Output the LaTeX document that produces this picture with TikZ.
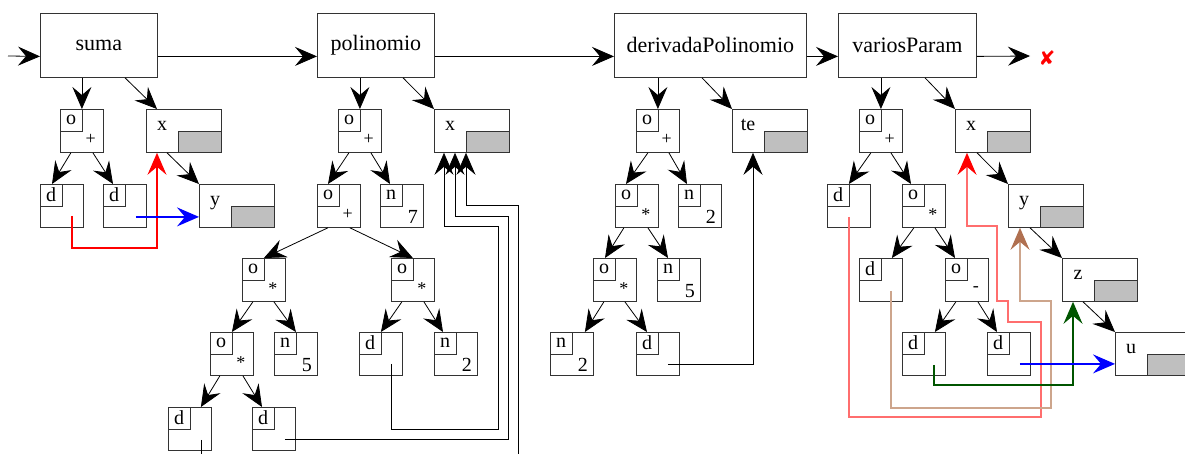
\documentclass[tikz,border=0pt]{standalone}
\usepackage{fontspec}
\setmainfont{Liberation Serif}
\newfontfamily\marksfont{DejaVu Sans}
\usetikzlibrary{arrows.meta}

\definecolor{brownarr}{RGB}{176,112,80}
\definecolor{brownline}{RGB}{205,165,140}
\definecolor{darkgreen}{RGB}{0,85,0}
\definecolor{lightred}{RGB}{255,110,110}

\tikzset{
  fbox/.style={draw=black!80, line width=0.8pt, minimum height=64pt, anchor=north west, font=\fontsize{22}{26}\selectfont},
  cell/.style={draw=black!80, line width=0.8pt, minimum size=43pt, inner sep=0pt, anchor=north west},
  tagbox/.style={draw=black!80, line width=0.8pt, minimum size=21.5pt, inner sep=0pt, anchor=north west, font=\fontsize{20}{22}\selectfont},
  opsym/.style={anchor=center, xshift=-13pt, yshift=13pt, font=\fontsize{18}{20}\selectfont},
  numsym/.style={anchor=center, xshift=-11pt, yshift=11pt, font=\fontsize{20}{22}\selectfont},
  op/.style={cell, label={[tagbox]north west:o}, label={[opsym]south east:#1}},
  dv/.style={cell, label={[tagbox]north west:d}},
  num/.style={cell, label={[tagbox]north west:n}, label={[numsym]south east:#1}},
  varname/.style={anchor=base, xshift=16pt, font=\fontsize{20}{22}\selectfont},
  greybox/.style={draw=black!80, fill=black!25, line width=0.8pt, minimum width=43pt, minimum height=21.5pt, inner sep=0pt, anchor=south east},
  var/.style={draw=black!80, line width=0.8pt, minimum width=75pt, minimum height=43pt, inner sep=0pt, anchor=north west, label={[varname]west:#1}, label={[greybox]south east:{}}},
  arr/.style={line width=0.8pt, -{Stealth[length=22pt, width=19pt, inset=8pt]}},
  tinted/.style 2 args={line width=1.2pt, draw=#1, -{Stealth[length=22pt, width=19pt, inset=8pt, color=#2]}},
}

\begin{document}
\begin{tikzpicture}[x=1pt, y=-1pt]
        \useasboundingbox (0,0) rectangle (1185,453);
        \clip (0,0) rectangle (1185,453);

        % functions
        \node[fbox, minimum width=117pt] (suma) at (40,13) {suma};
        \node[fbox, minimum width=117pt] (pol) at (317,13) {polinomio};
        \node[fbox, minimum width=192pt] (der) at (614,13) {derivadaPolinomio};
        \node[fbox, minimum width=138pt] (vp) at (838,13) {variosParam};
        \coordinate (start) at (8,56);
        \coordinate (stop) at (1030,56);
        \node[text=red, font=\marksfont\fontsize{20}{22}\selectfont] (cross) at (1047,58) {✘};
        \draw[arr] (start) -- ([yshift=-11pt]suma.west);
        \draw[arr] ([yshift=-11pt]suma.east) -- ([yshift=-11pt]pol.west);
        \draw[arr] ([yshift=-11pt]pol.east) -- ([yshift=-11pt]der.west);
        \draw[arr] ([yshift=-11pt]der.east) -- ([yshift=-11pt]vp.west);
        \draw[arr] ([yshift=-11pt]vp.east) -- (stop);

        % suma
        \node[op=+] (sop) at (60,109) {};
        \node[var=x] (sx) at (146,109) {};
        \node[dv] (sd1) at (40,184) {};
        \node[dv] (sd2) at (103,184) {};
        \node[var=y] (sy) at (199,184) {};
        \draw[arr] (sop.north |- suma.south) -- (sop.north);
        \draw[arr] ([xshift=85pt]suma.south west) -- ([xshift=11pt]sx.north west);
        \draw[arr] ([xshift=-11pt]sop.south) -- ([xshift=12pt]sd1.north west);
        \draw[arr] ([xshift=11pt]sop.south) -- ([xshift=10pt]sd2.north west);
        \draw[arr] ([xshift=21pt]sx.south west) -- (sy.north west);
        \coordinate (sd1o) at ([shift={(10,10)}]sd1.center);
        \coordinate (sd2o) at ([shift={(11,11)}]sd2.center);
        \draw[tinted={red}{red}] (sd1o) -- ++(0,32) -| ([xshift=11pt]sx.south west);
        \draw[tinted={blue}{blue}] (sd2o) -- (sd2o -| sy.west);

        % polinomio
        \node[op=+] (pop1) at (338,109) {};
        \node[var=x] (px) at (434,109) {};
        \node[op=+] (pop2) at (317,184) {};
        \node[num=7] (pn7) at (380,184) {};
        \node[op=*] (pop3) at (242,258) {};
        \node[op=*] (pop4) at (391,258) {};
        \node[op=*] (pop5) at (210,332) {};
        \node[num=5] (pn5) at (274,332) {};
        \node[dv] (pd3) at (359,332) {};
        \node[num=2] (pn2) at (434,332) {};
        \node[dv] (pd1) at (168,407) {};
        \node[dv] (pd2) at (252,407) {};
        \draw[arr] (pop1.north |- pol.south) -- (pop1.north);
        \draw[arr] ([xshift=86pt]pol.south west) -- (px.north west);
        \draw[arr] ([xshift=-11pt]pop1.south) -- ([xshift=11pt]pop2.north west);
        \draw[arr] ([xshift=11pt]pop1.south) -- ([xshift=10pt]pn7.north west);
        \draw[arr] ([xshift=-11pt]pop2.south) -- (pop3.north);
        \draw[arr] ([xshift=11pt]pop2.south) -- (pop4.north);
        \draw[arr] ([xshift=-11pt]pop3.south) -- (pop5.north);
        \draw[arr] ([xshift=10pt]pop3.south) -- (pn5.north);
        \draw[arr] ([xshift=-11pt]pop4.south) -- (pd3.north);
        \draw[arr] ([xshift=11pt]pop4.south) -- ([xshift=9pt]pn2.north west);
        \draw[arr] ([xshift=-12pt]pop5.south) -- ([xshift=11pt]pd1.north);
        \draw[arr] ([xshift=11pt]pop5.south) -- ([xshift=10pt]pd2.north west);
        \coordinate (pd1o) at ([shift={(11,11)}]pd1.center);
        \coordinate (pd2o) at ([shift={(11,10)}]pd2.center);
        \coordinate (pd3o) at ([shift={(10,10)}]pd3.center);
        \draw[arr] (pd3o) |- (498,429) -- (498,226) -| ([xshift=10pt]px.south west);
        \draw[arr] (pd2o) -| (508,216) -| ([xshift=21pt]px.south west);
        \draw[arr] (pd1o) |- (518,470) -- (518,205) -| ([xshift=32pt]px.south west);

        % derivadaPolinomio
        \node[op=+] (dop1) at (636,109) {};
        \node[var=te] (dte) at (732,109) {};
        \node[op=*] (dop2) at (615,184) {};
        \node[num=2] (dn2) at (678,184) {};
        \node[op=*] (dop3) at (593,258) {};
        \node[num=5] (dn5) at (657,258) {};
        \node[num=2] (dn2b) at (550,332) {};
        \node[dv] (dd) at (636,332) {};
        \draw[arr] (dop1.north |- der.south) -- (dop1.north);
        \draw[arr] ([xshift=88pt]der.south west) -- (dte.north west);
        \draw[arr] ([xshift=-10pt]dop1.south) -- ([xshift=11pt]dop2.north west);
        \draw[arr] ([xshift=11pt]dop1.south) -- ([xshift=9pt]dn2.north west);
        \draw[arr] ([xshift=-13pt]dop2.south) -- ([xshift=12pt]dop3.north west);
        \draw[arr] ([xshift=11pt]dop2.south) -- ([xshift=11pt]dn5.north west);
        \draw[arr] ([xshift=-11pt]dop3.south) -- ([xshift=13pt]dn2b.north);
        \draw[arr] ([xshift=10pt]dop3.south) -- ([xshift=11pt]dd.north west);
        \coordinate (ddo) at ([shift={(10,10)}]dd.center);
        \draw[arr] (ddo) -| ([xshift=21pt]dte.south west);

        % variosParam
        \node[op=+] (vop1) at (859,109) {};
        \node[var=x] (vx) at (955,109) {};
        \node[dv] (vd1) at (827,184) {};
        \node[op=*] (vop2) at (902,184) {};
        \node[var=y] (vy) at (1008,184) {};
        \node[dv] (vd2) at (859,258) {};
        \node[op=-] (vop3) at (945,258) {};
        \node[var=z] (vz) at (1062,258) {};
        \node[dv] (vd3) at (902,332) {};
        \node[dv] (vd4) at (987,332) {};
        \node[var=u] (vu) at (1115,332) {};
        \draw[arr] (vop1.north |- vp.south) -- (vop1.north);
        \draw[arr] ([xshift=87pt]vp.south west) -- (vx.north west);
        \draw[arr] ([xshift=-10pt]vop1.south) -- (vd1.north);
        \draw[arr] ([xshift=10pt]vop1.south) -- ([xshift=9pt]vop2.north west);
        \draw[arr] ([xshift=22pt]vx.south west) -- (vy.north west);
        \draw[arr] ([xshift=-10pt]vop2.south) -- ([xshift=11pt]vd2.north);
        \draw[arr] ([xshift=11pt]vop2.south) -- ([xshift=10pt]vop3.north west);
        \draw[arr] ([xshift=22pt]vy.south west) -- (vz.north west);
        \draw[arr] ([xshift=-11pt]vop3.south) -- ([xshift=11pt]vd3.north);
        \draw[arr] ([xshift=11pt]vop3.south) -- ([xshift=10pt]vd4.north west);
        \draw[arr] ([xshift=21pt]vz.south west) -- (vu.north west);
        \coordinate (vd1o) at ([shift={(0,11)}]vd1.center);
        \coordinate (vd2o) at ([shift={(10,11)}]vd2.center);
        \coordinate (vd3o) at ([shift={(10,11)}]vd3.center);
        \coordinate (vd4o) at ([shift={(11,10)}]vd4.center);
        \draw[tinted={lightred}{red}] (vd1o) |- (1041,417) |- (1008,322) |- (997,301) |- (967,226) -- ([xshift=12pt]vx.south west);
        \draw[tinted={brownline}{brownarr}] (vd2o) |- (1051,408) |- (1020,301) -- ([xshift=12pt]vy.south west);
        \draw[tinted={darkgreen}{darkgreen}] (vd3o) |- (1073,385) -- ([xshift=11pt]vz.south west);
        \draw[tinted={blue}{blue}] (vd4o) -- (vd4o -| vu.west);
\end{tikzpicture}
\end{document}
